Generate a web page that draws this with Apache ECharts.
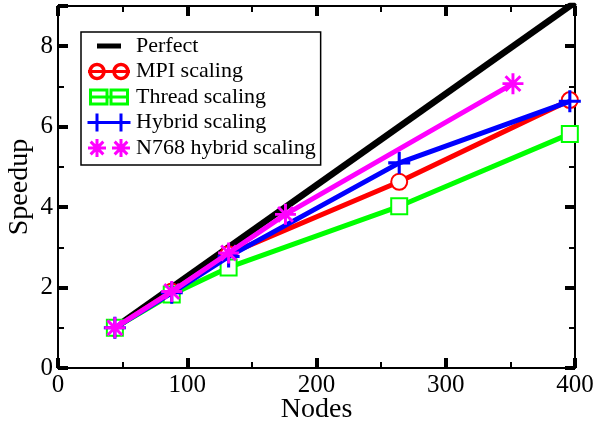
<!DOCTYPE html>
<html>
<head>
<meta charset="utf-8">
<script src="https://cdn.jsdelivr.net/npm/echarts@6/dist/echarts.min.js"></script>
<style>
html,body{margin:0;padding:0;background:#fff;}
#chart{width:596px;height:425px;}
</style>
</head>
<body>
<div id="chart"></div>
<script>
// ---- data ----
var seriesNames = ['Perfect', 'MPI scaling', 'Thread scaling', 'Hybrid scaling', 'N768 hybrid scaling'];
var perfectX = [44, 400];
var perfectY = [1, 9.09];
var mpiX = [44, 88, 132, 264, 396];
var mpiY = [1.0, 1.9, 2.83, 4.63, 6.66];
var threadX = [44, 88, 132, 264, 396];
var threadY = [1.0, 1.83, 2.5, 4.02, 5.82];
var hybridX = [44, 88, 132, 264, 396];
var hybridY = [1.0, 1.87, 2.77, 5.1, 6.63];
var n768X = [44, 88, 132, 176, 352];
var n768Y = [1.0, 1.9, 2.86, 3.82, 7.07];
var xTicks = [0, 100, 200, 300, 400];
var yTicks = [0, 2, 4, 6, 8];

function pairs(xs, ys) { return xs.map(function (x, i) { return [x, ys[i]]; }); }

// ---- symbol / icon shapes ----
function fmt(p) { return p[0].toFixed(2) + ',' + p[1].toFixed(2); }
function poly(pts) { return 'M' + pts.map(fmt).join(' L') + ' Z '; }
function rectArm(cx, cy, theta, L, t) {
  var c = Math.cos(theta), s = Math.sin(theta);
  var px = -s * t, py = c * t;
  return poly([[cx + L * c + px, cy + L * s + py], [cx - L * c + px, cy - L * s + py],
               [cx - L * c - px, cy - L * s - py], [cx + L * c - px, cy + L * s - py]]);
}
function circlePoly(cx, cy, r, reverse) {
  var pts = [];
  for (var i = 0; i < 40; i++) {
    var a = (reverse ? -1 : 1) * i / 40 * Math.PI * 2;
    pts.push([cx + r * Math.cos(a), cy + r * Math.sin(a)]);
  }
  return poly(pts);
}
function rectCW(x0, y0, x1, y1) { return poly([[x0, y0], [x1, y0], [x1, y1], [x0, y1]]); }
function rectCCW(x0, y0, x1, y1) { return poly([[x0, y0], [x0, y1], [x1, y1], [x1, y0]]); }
var specks = rectCW(0, 0, 0.01, 0.01) + rectCW(43.99, 17.99, 44, 18);

var plusPath = 'path://' + rectArm(0, 0, 0, 10, 1.4) + rectArm(0, 0, Math.PI / 2, 10, 1.4);
function star(cx, cy, L, t) {
  return rectArm(cx, cy, 0, L, t) + rectArm(cx, cy, Math.PI / 2, L, t) +
         rectArm(cx, cy, Math.PI / 4, L, t) + rectArm(cx, cy, -Math.PI / 4, L, t);
}
var starPath = 'path://' + star(0, 0, 10, 1.4);

var midBar = rectCW(1, 7.5, 43, 10.5);
var iconPerfect = 'path://' + specks + rectCW(10, 6.5, 34, 11.5);
var iconMPI = 'path://' + specks + circlePoly(10, 9, 8.7, false) + circlePoly(10, 9, 5.2, true) +
  circlePoly(34, 9, 8.7, false) + circlePoly(34, 9, 5.2, true) + midBar;
var iconThread = 'path://' + specks + rectCW(2, 0.5, 21.5, 17.5) + rectCCW(5, 3.5, 18.5, 14.5) +
  rectCW(22.5, 0.5, 42, 17.5) + rectCCW(25.5, 3.5, 39, 14.5) + rectCW(2, 7.5, 42, 10.5);
var iconHybrid = 'path://' + specks + rectCW(0.5, 7.5, 43.5, 10.5) + rectCW(8.5, 0, 11.5, 18) + rectCW(32.5, 0, 35.5, 18);
var iconN768 = 'path://' + specks + star(10, 9, 9, 1.5) + star(34, 9, 9, 1.5);

var FONT = 'Liberation Serif';
var chart = echarts.init(document.getElementById('chart'));

var axisCommon = {
  min: 0,
  axisLine: { show: true, onZero: false, lineStyle: { color: '#000', width: 2 } },
  axisTick: { show: true, inside: true, length: 10, lineStyle: { color: '#000', width: 4 } },
  minorTick: { show: true, splitNumber: 2, length: 6, lineStyle: { color: '#000', width: 2 } },
  splitLine: { show: false },
  minorSplitLine: { show: false }
};
function ax(extra) { return Object.assign({}, JSON.parse(JSON.stringify(axisCommon)), extra); }

chart.setOption({
  animation: false,
  backgroundColor: '#fff',
  grid: { left: 58, right: 21, top: 6, bottom: 57, containLabel: false, outerBoundsMode: 'none' },
  xAxis: [
    ax({
      type: 'value', max: 400, interval: 100, position: 'bottom',
      name: 'Nodes', nameLocation: 'middle', nameGap: 28, nameMoveOverlap: false,
      nameTextStyle: { fontFamily: FONT, fontSize: 28, color: '#000' },
      axisLabel: { fontFamily: FONT, fontSize: 25, color: '#000', margin: 5,
        formatter: function (v) { return xTicks.indexOf(v) >= 0 ? String(v) : ''; } }
    }),
    ax({ type: 'value', max: 400, interval: 100, position: 'top', axisLabel: { show: false } })
  ],
  yAxis: [
    ax({
      type: 'value', max: 9, interval: 2, position: 'left',
      name: 'Speedup', nameLocation: 'middle', nameGap: 24, nameRotate: 90, nameMoveOverlap: false,
      nameTextStyle: { fontFamily: FONT, fontSize: 28, color: '#000' },
      axisLabel: { fontFamily: FONT, fontSize: 25, color: '#000', margin: 5, showMaxLabel: false,
        formatter: function (v) { return yTicks.indexOf(v) >= 0 ? String(v) : ''; } }
    }),
    ax({ type: 'value', max: 9, interval: 2, position: 'right', axisLabel: { show: false } })
  ],
  legend: {
    left: 81, top: 32,
    orient: 'vertical',
    data: [
      { name: seriesNames[0], icon: iconPerfect },
      { name: seriesNames[1], icon: iconMPI },
      { name: seriesNames[2], icon: iconThread },
      { name: seriesNames[3], icon: iconHybrid },
      { name: seriesNames[4], icon: iconN768 }
    ],
    backgroundColor: '#fff',
    borderColor: '#000', borderWidth: 1.5, borderRadius: 0,
    padding: [3, 5, 6, 6],
    itemWidth: 44, itemHeight: 18, itemGap: 3.5,
    itemStyle: { borderWidth: 0 },
    textStyle: { fontFamily: FONT, fontSize: 22, color: '#000' }
  },
  series: [
    { name: seriesNames[0], type: 'line', data: pairs(perfectX, perfectY), showSymbol: false, symbol: 'none',
      lineStyle: { color: '#000', width: 6.5 }, itemStyle: { color: '#000' }, z: 2 },
    { name: seriesNames[1], type: 'line', data: pairs(mpiX, mpiY), symbol: 'emptyCircle', symbolSize: 16,
      lineStyle: { color: '#ff0000', width: 5 }, itemStyle: { color: '#ff0000', borderColor: '#ff0000', borderWidth: 3.5 }, z: 3 },
    { name: seriesNames[2], type: 'line', data: pairs(threadX, threadY), symbol: 'emptyRect', symbolSize: 16,
      lineStyle: { color: '#00ff00', width: 5 }, itemStyle: { color: '#00ff00', borderColor: '#00ff00', borderWidth: 3 }, z: 4 },
    { name: seriesNames[3], type: 'line', data: pairs(hybridX, hybridY), symbol: plusPath, symbolSize: 22,
      lineStyle: { color: '#0000ff', width: 5 }, itemStyle: { color: '#0000ff' }, z: 5 },
    { name: seriesNames[4], type: 'line', data: pairs(n768X, n768Y), symbol: starPath, symbolSize: 21,
      lineStyle: { color: '#ff00ff', width: 5 }, itemStyle: { color: '#ff00ff' }, z: 6 }
  ]
});
</script>
</body>
</html>
